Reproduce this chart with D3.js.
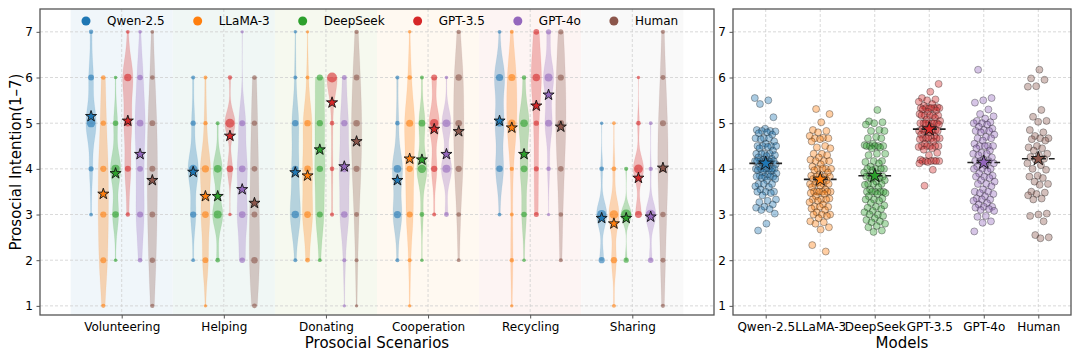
<!DOCTYPE html>
<html>
<head>
<meta charset="utf-8">
<script src="https://cdn.jsdelivr.net/npm/d3@7"></script>
<style>
  html, body { margin: 0; padding: 0; background: #fff; }
  svg { display: block; font-family: "DejaVu Sans", sans-serif; }
</style>
</head>
<body>
<svg id="chart" width="1080" height="360"></svg>
<script>
// ---------------- DATA ----------------
const scenarios = ["Volunteering", "Helping", "Donating", "Cooperation", "Recycling", "Sharing"];
const models = ["Qwen-2.5", "LLaMA-3", "DeepSeek", "GPT-3.5", "GPT-4o", "Human"];
const modelColors = ["#1f77b4", "#ff7f0e", "#2ca02c", "#d62728", "#9467bd", "#8c564b"];
const scenarioTints = ["#f0f6fa", "#f0f7f5", "#f6f9ef", "#fff9f1", "#fdf4f3", "#f9f9f9"];
const yTicks = [1, 2, 3, 4, 5, 6, 7];
const ratingLevels = [1, 2, 3, 4, 5, 6, 7];

// counts of ratings 1..7, one row per scenario
const qwenCounts = [
  [0, 0, 4, 15, 50, 22, 9],
  [0, 4, 25, 50, 15, 6, 0],
  [0, 5, 38, 25, 25, 5, 2],
  [0, 6, 36, 42, 10, 6, 0],
  [0, 0, 4, 27, 30, 35, 4],
  [0, 24, 62, 12, 2, 0, 0]
];
const llamaCounts = [
  [7, 21, 24, 24, 14, 10, 0],
  [2, 20, 30, 36, 8, 4, 0],
  [0, 10, 30, 28, 26, 5, 1],
  [2, 6, 22, 25, 33, 10, 2],
  [2, 9, 5, 8, 37, 34, 5],
  [5, 25, 55, 12, 3, 0, 0]
];
const deepseekCounts = [
  [0, 3, 28, 48, 18, 3, 0],
  [0, 10, 45, 40, 5, 0, 0],
  [0, 4, 22, 26, 24, 24, 0],
  [0, 3, 12, 50, 30, 5, 0],
  [0, 3, 18, 30, 40, 9, 0],
  [0, 15, 78, 7, 0, 0, 0]
];
const gpt35Counts = [
  [0, 0, 8, 22, 28, 38, 4],
  [0, 0, 2, 30, 60, 8, 0],
  [0, 0, 7, 11, 10, 72, 0],
  [0, 0, 5, 25, 48, 22, 0],
  [0, 0, 13, 14, 16, 38, 19],
  [0, 0, 32, 57, 10, 1, 0]
];
const gpt4oCounts = [
  [0, 9, 23, 19, 29, 17, 3],
  [0, 18, 30, 30, 21, 0, 1],
  [1, 6, 27, 30, 24, 12, 0],
  [0, 0, 12, 45, 40, 3, 0],
  [0, 0, 1, 9, 31, 44, 15],
  [0, 18, 70, 8, 4, 0, 0]
];
const humanCounts = [
  [4, 8, 10, 11, 10, 5, 2],
  [6, 13, 10, 9, 7, 5, 0],
  [1, 3, 6, 12, 14, 10, 4],
  [0, 2, 5, 12, 14, 13, 4],
  [0, 3, 5, 9, 14, 12, 7],
  [3, 6, 8, 13, 11, 6, 3]
];
// mean (star) per scenario for each model
const qwenScenarioMeans = [5.15, 3.93, 3.92, 3.75, 5.05, 2.92];
const llamaScenarioMeans = [3.45, 3.40, 3.85, 4.22, 4.90, 2.80];
const deepseekScenarioMeans = [3.90, 3.40, 4.42, 4.20, 4.32, 2.92];
const gpt35ScenarioMeans = [5.05, 4.72, 5.45, 4.87, 5.38, 3.80];
const gpt4oScenarioMeans = [4.32, 3.55, 4.05, 4.32, 5.62, 2.95];
const humanScenarioMeans = [3.75, 3.25, 4.60, 4.82, 4.92, 4.02];

// per-respondent average score (right panel)
const qwenScores = [5.55,5.5,5.42,5.13,4.88,4.85,4.83,4.83,4.82,4.8,4.78,4.75,4.67,4.67,4.67,4.65,4.6,4.55,4.5,4.5,4.5,4.5,4.48,4.45,4.4,4.33,4.33,4.33,4.33,4.3,4.28,4.25,4.22,4.2,4.17,4.17,4.17,4.17,4.17,4.17,4.15,4.12,4.1,4.08,4.05,4.0,4.0,4.0,4.0,4.0,4.0,4.0,3.97,3.95,3.92,3.9,3.88,3.85,3.83,3.83,3.83,3.83,3.8,3.78,3.75,3.67,3.67,3.67,3.62,3.6,3.55,3.5,3.5,3.5,3.47,3.42,3.33,3.3,3.27,3.22,3.17,3.15,3.12,3.1,3.02,2.8,2.65];
const llamaScores = [5.31,5.2,5.02,4.85,4.83,4.8,4.72,4.68,4.67,4.67,4.65,4.6,4.5,4.47,4.45,4.33,4.33,4.3,4.25,4.2,4.17,4.17,4.17,4.1,4.05,4.0,4.0,4.0,4.0,3.97,3.92,3.88,3.85,3.83,3.83,3.83,3.8,3.78,3.75,3.7,3.67,3.67,3.67,3.67,3.63,3.6,3.55,3.5,3.5,3.5,3.5,3.5,3.5,3.47,3.45,3.4,3.35,3.33,3.33,3.33,3.3,3.27,3.22,3.17,3.17,3.17,3.13,3.1,3.05,3.0,3.0,3.0,2.97,2.92,2.85,2.83,2.8,2.72,2.67,2.33,2.19];
const deepseekScores = [5.29,5.04,5.02,5.0,4.97,4.85,4.83,4.83,4.7,4.67,4.67,4.55,4.52,4.5,4.5,4.5,4.5,4.5,4.47,4.45,4.33,4.33,4.3,4.17,4.17,4.15,4.12,4.05,4.0,4.0,4.0,4.0,3.97,3.92,3.9,3.85,3.83,3.83,3.83,3.8,3.78,3.75,3.72,3.67,3.67,3.67,3.65,3.6,3.55,3.5,3.5,3.5,3.5,3.5,3.47,3.45,3.4,3.35,3.33,3.33,3.3,3.25,3.2,3.17,3.15,3.12,3.08,3.05,3.0,3.0,2.97,2.92,2.88,2.85,2.83,2.8,2.75,2.72,2.65,2.62];
const gpt35Scores = [5.86,5.69,5.55,5.52,5.5,5.47,5.42,5.38,5.35,5.33,5.33,5.33,5.33,5.33,5.33,5.3,5.28,5.25,5.2,5.17,5.17,5.17,5.17,5.17,5.12,5.08,5.05,5.0,5.0,5.0,5.0,5.0,5.0,5.0,4.97,4.92,4.87,4.85,4.83,4.83,4.83,4.83,4.83,4.8,4.75,4.72,4.67,4.67,4.67,4.67,4.67,4.67,4.65,4.6,4.55,4.5,4.5,4.5,4.5,4.5,4.48,4.45,4.42,4.35,4.3,4.2,4.18,4.17,4.17,4.17,4.17,4.17,4.15,4.12,3.98,3.63];
const gpt4oScores = [6.17,5.55,5.5,5.45,5.3,5.2,5.15,5.1,5.05,5.02,5.0,5.0,4.97,4.92,4.88,4.85,4.83,4.83,4.8,4.75,4.7,4.67,4.67,4.62,4.55,4.5,4.5,4.5,4.5,4.45,4.4,4.35,4.33,4.33,4.3,4.25,4.2,4.17,4.17,4.17,4.12,4.08,4.05,4.0,4.0,4.0,3.95,3.9,3.85,3.83,3.83,3.8,3.75,3.72,3.67,3.67,3.62,3.55,3.5,3.5,3.47,3.45,3.4,3.35,3.33,3.33,3.3,3.25,3.22,3.17,3.17,3.15,3.12,3.1,3.08,2.97,2.95,2.85,2.82,2.63];
const humanScores = [6.17,5.98,5.95,5.81,5.8,5.29,5.14,5.05,5.03,4.85,4.8,4.72,4.67,4.67,4.65,4.62,4.5,4.47,4.45,4.4,4.33,4.3,4.26,4.22,4.2,4.12,4.08,4.0,3.98,3.85,3.83,3.8,3.72,3.67,3.65,3.5,3.48,3.45,3.42,3.35,3.33,3.02,3.0,2.97,2.85,2.55,2.5,2.48];
const modelMeans = [4.12, 3.77, 3.85, 4.87, 4.14, 4.22];

const allCounts = [qwenCounts, llamaCounts, deepseekCounts, gpt35Counts, gpt4oCounts, humanCounts];
const allScenarioMeans = [qwenScenarioMeans, llamaScenarioMeans, deepseekScenarioMeans, gpt35ScenarioMeans, gpt4oScenarioMeans, humanScenarioMeans];
const allScores = [qwenScores, llamaScores, deepseekScores, gpt35Scores, gpt4oScores, humanScores];

// ---------------- LAYOUT ----------------
const svg = d3.select("#chart");
const L = { x0: 40, x1: 714, y0: 9, y1: 315 };
const R = { x0: 733, x1: 1071, y0: 9, y1: 315 };
const spineColor = "#555";
const gridColor = "#cfcfcf";

const y = d3.scaleLinear().domain([0.8, 7.5]).range([L.y1, L.y0]);
const xL = d3.scaleLinear().domain([-0.8, 5.8]).range([L.x0, L.x1]);
const xR = d3.scaleLinear().domain([-0.6, 5.6]).range([R.x0, R.x1]);
const offsets = [-0.3, -0.18, -0.06, 0.06, 0.18, 0.3];
const violinWidth = 0.1;

const defs = svg.append("defs");
defs.append("clipPath").attr("id", "clipL").append("rect")
  .attr("x", L.x0).attr("y", L.y0).attr("width", L.x1 - L.x0).attr("height", L.y1 - L.y0);
defs.append("clipPath").attr("id", "clipR").append("rect")
  .attr("x", R.x0).attr("y", R.y0).attr("width", R.x1 - R.x0).attr("height", R.y1 - R.y0);

const star = (size) => d3.symbol().type(d3.symbolStar).size(size)();

// ---------------- LEFT PANEL ----------------
const gL = svg.append("g").attr("clip-path", "url(#clipL)");
gL.selectAll("rect.tint").data(scenarios).join("rect")
  .attr("x", (d, i) => xL(i - 0.5)).attr("width", xL(0.5) - xL(-0.5))
  .attr("y", L.y0).attr("height", L.y1 - L.y0)
  .attr("fill", (d, i) => scenarioTints[i]);
gL.selectAll("line.gy").data(yTicks).join("line")
  .attr("x1", L.x0).attr("x2", L.x1).attr("y1", d => y(d)).attr("y2", d => y(d))
  .attr("stroke", gridColor).attr("stroke-width", 0.8).attr("stroke-dasharray", "3,2");
gL.selectAll("line.gx").data(scenarios).join("line")
  .attr("x1", (d, i) => xL(i)).attr("x2", (d, i) => xL(i)).attr("y1", L.y0).attr("y2", L.y1)
  .attr("stroke", gridColor).attr("stroke-width", 0.8).attr("stroke-dasharray", "3,2");

function kdeViolin(counts) {
  const n = d3.sum(counts);
  const mean = d3.sum(counts.map((c, k) => c * ratingLevels[k])) / n;
  const variance = d3.sum(counts.map((c, k) => c * (ratingLevels[k] - mean) ** 2)) / (n - 1);
  const bw = Math.sqrt(variance) * Math.pow(n, -1 / 5);
  const present = ratingLevels.filter((v, k) => counts[k] > 0);
  const lo = d3.min(present), hi = d3.max(present);
  const pts = d3.range(0, 101).map(t => lo + (hi - lo) * t / 100);
  const dens = pts.map(v => d3.sum(counts.map((c, k) => c * Math.exp(-0.5 * ((v - ratingLevels[k]) / bw) ** 2))));
  const mx = d3.max(dens);
  return pts.map((v, j) => ({ v, w: dens[j] / mx * violinWidth / 2 }));
}

models.forEach((m, mi) => {
  scenarios.forEach((s, si) => {
    const counts = allCounts[mi][si];
    const n = d3.sum(counts);
    const cx = si + offsets[mi];
    const prof = kdeViolin(counts);
    const area = d3.area()
      .y(d => y(d.v))
      .x0(d => xL(cx - d.w))
      .x1(d => xL(cx + d.w));
    gL.append("path").attr("d", area(prof))
      .attr("fill", modelColors[mi]).attr("fill-opacity", 0.3)
      .attr("stroke", modelColors[mi]).attr("stroke-opacity", 0.15).attr("stroke-width", 0.5);
    counts.forEach((c, k) => {
      if (c <= 0) return;
      const p = c / n;
      gL.append("circle")
        .attr("cx", xL(cx)).attr("cy", y(ratingLevels[k]))
        .attr("r", Math.sqrt(2.4 + 30 * p))
        .attr("fill", modelColors[mi]).attr("fill-opacity", 0.6);
    });
  });
});
models.forEach((m, mi) => {
  scenarios.forEach((s, si) => {
    const cx = si + offsets[mi];
    gL.append("path").attr("d", star(38))
      .attr("transform", `translate(${xL(cx)},${y(allScenarioMeans[mi][si])})`)
      .attr("fill", modelColors[mi]).attr("stroke", "#111").attr("stroke-width", 0.9);
  });
});

svg.append("rect").attr("x", L.x0).attr("y", L.y0).attr("width", L.x1 - L.x0).attr("height", L.y1 - L.y0)
  .attr("fill", "none").attr("stroke", spineColor).attr("stroke-width", 1.3);

function drawAxes(xs, box, labels) {
  const ya = svg.append("g").attr("transform", `translate(${box.x0},0)`)
    .call(d3.axisLeft(y).tickValues(yTicks).tickFormat(d3.format("d")).tickSize(3.5).tickPadding(3.5));
  const xa = svg.append("g").attr("transform", `translate(0,${box.y1})`)
    .call(d3.axisBottom(xs).tickValues(d3.range(labels.length)).tickFormat(i => labels[i]).tickSize(3.5).tickPadding(3.5));
  [ya, xa].forEach(a => {
    a.select(".domain").remove();
    a.selectAll(".tick line").attr("stroke", spineColor).attr("stroke-width", 1);
    a.selectAll(".tick text").attr("fill", "#000").style("font-size", "12px")
      .style("font-family", "DejaVu Sans, sans-serif");
  });
}
drawAxes(xL, L, scenarios);

svg.append("text").attr("x", (L.x0 + L.x1) / 2).attr("y", 348)
  .attr("text-anchor", "middle").style("font-size", "15px").text("Prosocial Scenarios");
svg.append("text").attr("transform", `translate(21,${(L.y0 + L.y1) / 2}) rotate(-90)`)
  .attr("text-anchor", "middle").style("font-size", "15px").text("Prosocial Intention(1–7)");

// legend
const lg = svg.append("g");
let cursor = 0;
models.forEach((m, i) => {
  const g = lg.append("g");
  g.append("circle").attr("cx", 0).attr("cy", 0).attr("r", 4.5).attr("fill", modelColors[i]);
  const t = g.append("text").attr("x", 21).attr("y", 4.3).style("font-size", "12px").text(m);
  const w = t.node().getComputedTextLength();
  g.attr("transform", `translate(${cursor},21)`);
  cursor += 21 + w + 33;
});
lg.attr("transform", `translate(86,0)`);

// ---------------- RIGHT PANEL ----------------
const gR = svg.append("g").attr("clip-path", "url(#clipR)");
gR.selectAll("line.gy").data(yTicks).join("line")
  .attr("x1", R.x0).attr("x2", R.x1).attr("y1", d => y(d)).attr("y2", d => y(d))
  .attr("stroke", gridColor).attr("stroke-width", 0.8).attr("stroke-dasharray", "3,2");
gR.selectAll("line.gx").data(models).join("line")
  .attr("x1", (d, i) => xR(i)).attr("x2", (d, i) => xR(i)).attr("y1", R.y0).attr("y2", R.y1)
  .attr("stroke", gridColor).attr("stroke-width", 0.8).attr("stroke-dasharray", "3,2");

models.forEach((m, mi) => {
  const scores = allScores[mi];
  // deterministic spread (golden-ratio sequence) for the strip jitter
  gR.selectAll(null).data(scores).join("circle")
    .attr("cx", (d, j) => xR(mi + (((j * 0.618034 + mi * 0.31) % 1) - 0.5) * 0.4))
    .attr("cy", d => y(d))
    .attr("r", 3.5)
    .attr("fill", modelColors[mi]).attr("fill-opacity", 0.38)
    .attr("stroke", "#222").attr("stroke-opacity", 0.45).attr("stroke-width", 0.8);
  gR.append("line")
    .attr("x1", xR(mi - 0.3)).attr("x2", xR(mi + 0.3))
    .attr("y1", y(modelMeans[mi])).attr("y2", y(modelMeans[mi]))
    .attr("stroke", "#222").attr("stroke-width", 1.6).attr("stroke-dasharray", "6,3");
  gR.append("path").attr("d", star(62))
    .attr("transform", `translate(${xR(mi)},${y(modelMeans[mi])})`)
    .attr("fill", modelColors[mi]).attr("stroke", "#111").attr("stroke-width", 0.9);
});

svg.append("rect").attr("x", R.x0).attr("y", R.y0).attr("width", R.x1 - R.x0).attr("height", R.y1 - R.y0)
  .attr("fill", "none").attr("stroke", spineColor).attr("stroke-width", 1.3);
drawAxes(xR, R, models);
svg.append("text").attr("x", (R.x0 + R.x1) / 2).attr("y", 348)
  .attr("text-anchor", "middle").style("font-size", "15px").text("Models");
</script>
</body>
</html>
